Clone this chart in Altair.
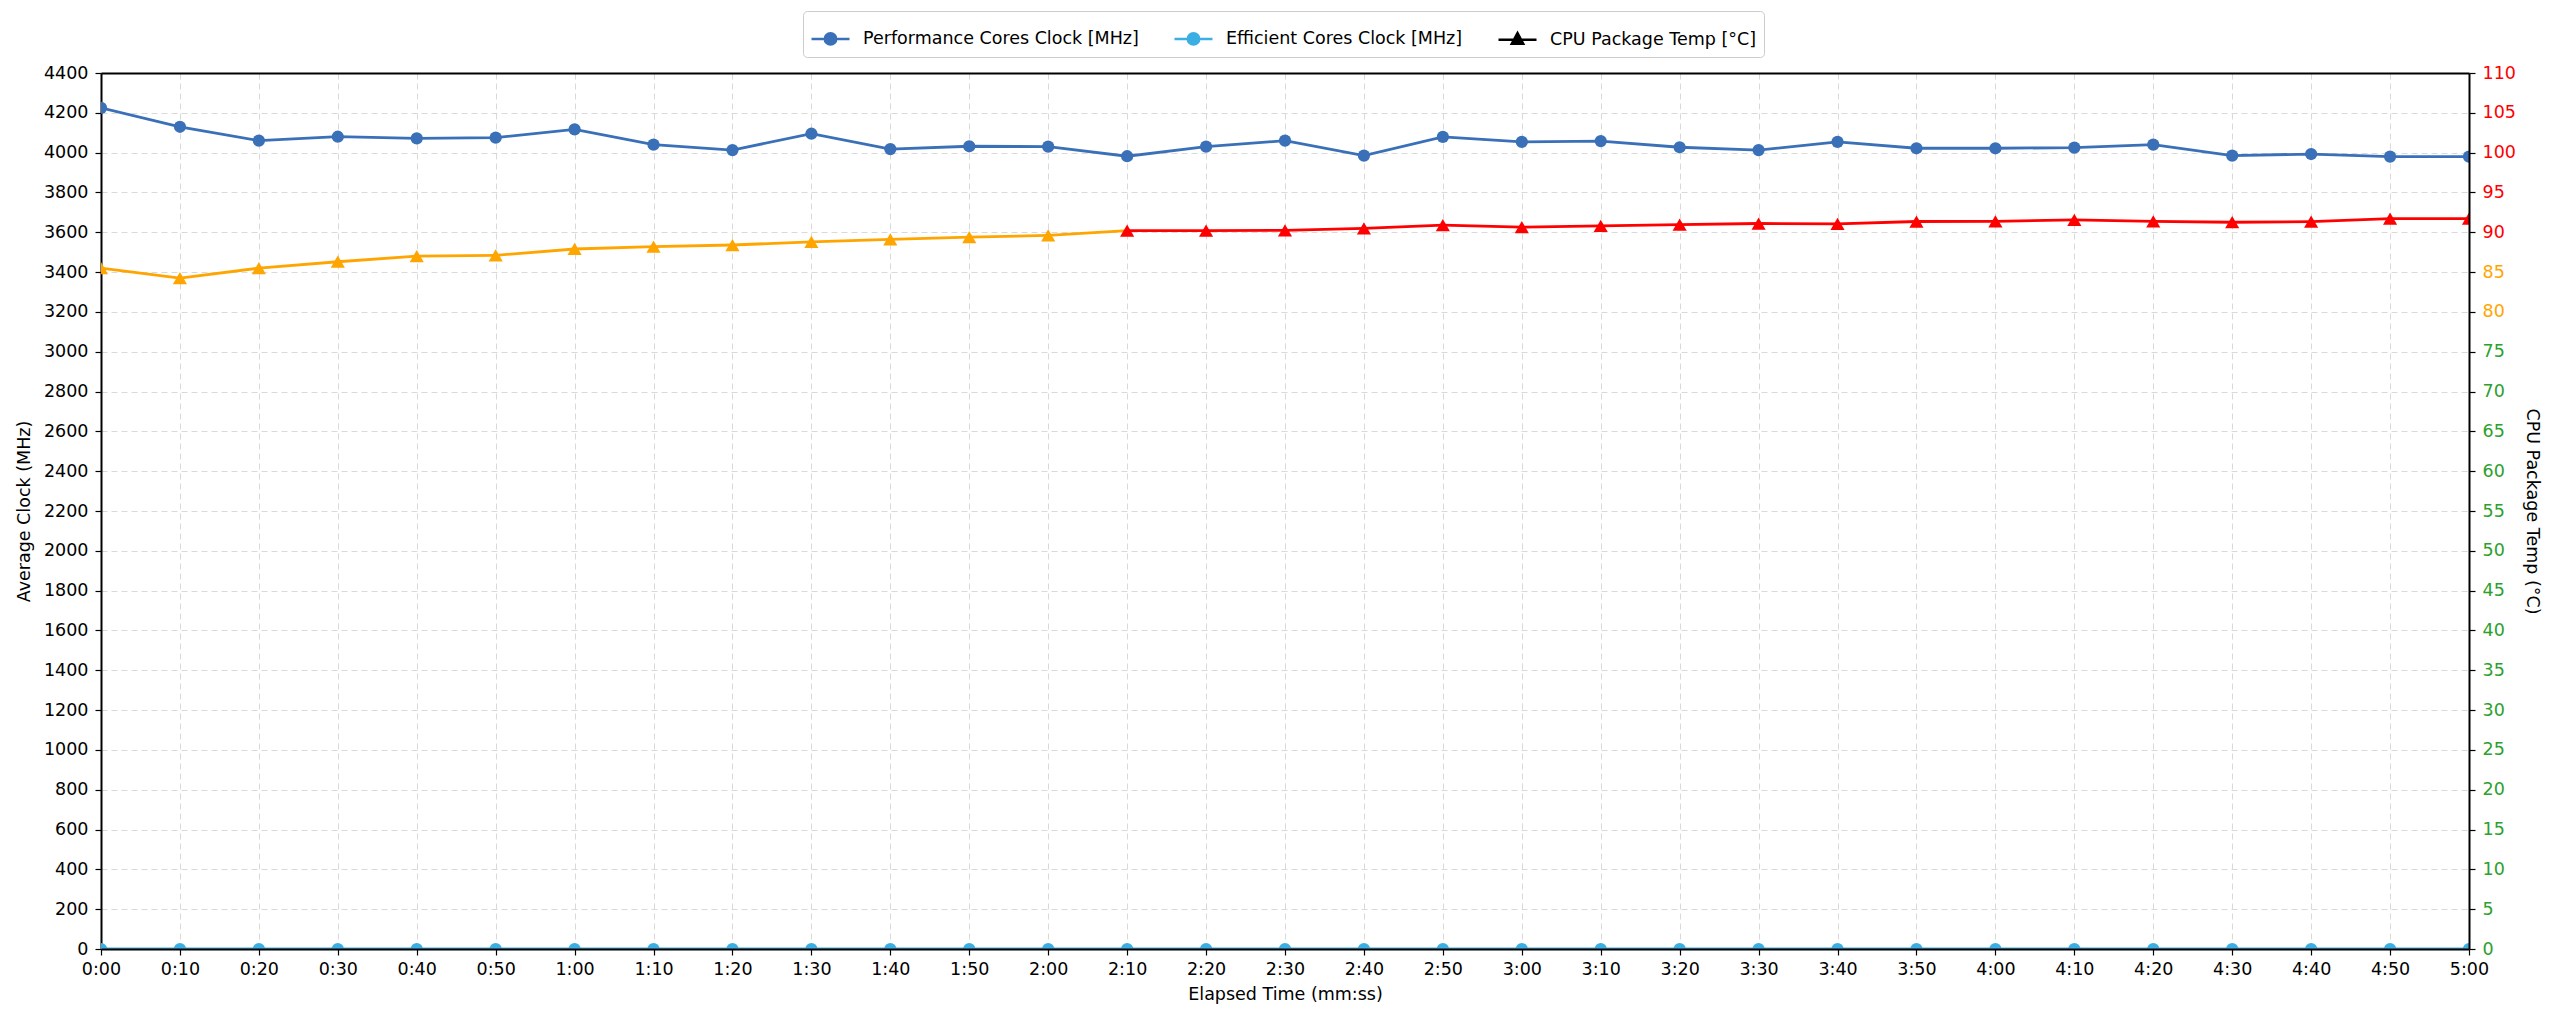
import altair as alt
import pandas as pd

# elapsed seconds, one sample every 10 s
elapsed_s = [0, 10, 20, 30, 40, 50, 60, 70, 80, 90, 100, 110, 120, 130, 140, 150,
             160, 170, 180, 190, 200, 210, 220, 230, 240, 250, 260, 270, 280, 290, 300]

perf_clock = [4225, 4130, 4060, 4080, 4072, 4075, 4117, 4040, 4013, 4095, 4018,
              4032, 4030, 3982, 4030, 4060, 3985, 4079, 4054, 4058, 4027,
              4013, 4054, 4022, 4022, 4025, 4040, 3985, 3993, 3980, 3980]

eff_clock = [0] * 31

pkg_temp = [85.5, 84.25, 85.5, 86.3, 87.0, 87.1, 87.9, 88.2, 88.4, 88.8, 89.1,
            89.4, 89.6, 90.2, 90.2, 90.25, 90.5, 90.9, 90.65, 90.8, 90.95,
            91.1, 91.05, 91.35, 91.38, 91.55, 91.38, 91.26, 91.34, 91.72, 91.72]

legend_labels = ["Performance Cores Clock [MHz]", "Efficient Cores Clock [MHz]", "CPU Package Temp [°C]"]
legend_colors = ["#3a70b8", "#3baee4", "black"]
legend_paths = [
    "M-1,0L1,0M-0.3,0A0.3,0.3,0,1,0,0.3,0A0.3,0.3,0,1,0,-0.3,0Z",
    "M-1,0L1,0M-0.3,0A0.3,0.3,0,1,0,0.3,0A0.3,0.3,0,1,0,-0.3,0Z",
    "M-1,0L1,0M0,-0.34L0.3,0.22L-0.3,0.22Z",
]

FS = 17.5
LW = 2.8
GRID = dict(gridDash=[6, 4], gridColor="#d9d9d9", gridWidth=1)


def temp_color(t):
    return "red" if t >= 90 else "orange"


clock_df = pd.DataFrame({"t": elapsed_s, "perf": perf_clock, "eff": eff_clock})
temp_df = pd.DataFrame({"t": elapsed_s, "temp": pkg_temp,
                        "c": [temp_color(v) for v in pkg_temp]})
seg_df = pd.DataFrame({
    "t": elapsed_s[:-1], "t2": elapsed_s[1:],
    "temp": pkg_temp[:-1], "temp2": pkg_temp[1:],
    "c": [temp_color(v) for v in pkg_temp[:-1]],
})
legend_df = pd.DataFrame({"series": legend_labels})

x_label = "floor(datum.value / 60) + ':' + (datum.value % 60 < 10 ? '0' : '') + (datum.value % 60)"
x_scale = alt.Scale(domain=[0, 300], nice=False)
y_clock = alt.Scale(domain=[0, 4400], nice=False)
y_temp = alt.Scale(domain=[0, 110], nice=False)

# vertical grid only, under the marks
x_grid_axis = alt.Axis(orient="bottom", values=elapsed_s, labels=False, ticks=False,
                       domain=False, title=None, zindex=0, **GRID)
# bottom spine, ticks and labels, over the marks
x_main_axis = alt.Axis(orient="bottom", values=elapsed_s, labelExpr=x_label,
                       title="Elapsed Time (mm:ss)", grid=False, zindex=1,
                       labelFlush=False, labelOverlap=False, labelPadding=5, titlePadding=8)
# top spine
x_top_axis = alt.Axis(orient="top", labels=False, ticks=False, grid=False, title=None,
                      domain=True, zindex=1)

y_clock_axis = alt.Axis(orient="left", values=list(range(0, 4401, 200)), format="d",
                        title="Average Clock (MHz)", labelOverlap=False, labelPadding=7,
                        titlePadding=10, zindex=0, **GRID)
temp_axis = alt.Axis(
    orient="right", values=list(range(0, 111, 5)), title="CPU Package Temp (°C)",
    grid=False, labelOverlap=False, labelPadding=7, titlePadding=7, zindex=1,
    labelColor={"condition": [{"test": "datum.value >= 90", "value": "red"},
                              {"test": "datum.value >= 80", "value": "orange"}],
                "value": "#2ca02c"},
)

perf = alt.Chart(clock_df).mark_line(
    color="#3a70b8", strokeWidth=LW, clip=True,
    point=alt.OverlayMarkDef(filled=True, size=150, color="#3a70b8", opacity=1),
).encode(x=alt.X("t:Q", scale=x_scale, axis=x_grid_axis),
         y=alt.Y("perf:Q", scale=y_clock, axis=y_clock_axis))

eff = alt.Chart(clock_df).mark_line(
    color="#3baee4", strokeWidth=LW, clip=True,
    point=alt.OverlayMarkDef(filled=True, size=150, color="#3baee4", opacity=1),
).encode(x=alt.X("t:Q", scale=x_scale, axis=x_main_axis),
         y=alt.Y("eff:Q", scale=y_clock, axis=None))

temp_lines = alt.Chart(seg_df).mark_rule(strokeWidth=LW, clip=True).encode(
    x=alt.X("t:Q", scale=x_scale, axis=x_top_axis), x2="t2:Q",
    y=alt.Y("temp:Q", scale=y_temp, axis=temp_axis), y2="temp2:Q",
    color=alt.Color("c:N", scale=None),
)
temp_pts = alt.Chart(temp_df).mark_point(
    shape="triangle-up", filled=True, size=200, opacity=1, clip=True
).encode(x=alt.X("t:Q", scale=x_scale, axis=None),
         y=alt.Y("temp:Q", scale=y_temp, axis=None),
         color=alt.Color("c:N", scale=None))

legend_layer = alt.Chart(legend_df).mark_point(strokeWidth=2.5, opacity=1).encode(
    fill=alt.Fill("series:N", scale=alt.Scale(domain=legend_labels, range=legend_colors),
                  legend=alt.Legend(title=None, orient="none", legendX=702, legendY=-62,
                                    direction="horizontal", columns=3,
                                    labelFontSize=FS, labelLimit=0, symbolSize=1444,
                                    symbolStrokeWidth=2.5, labelOffset=12,
                                    columnPadding=30, padding=7,
                                    strokeColor="#cccccc", fillColor="white",
                                    cornerRadius=4)),
    stroke=alt.Stroke("series:N", scale=alt.Scale(domain=legend_labels, range=legend_colors)),
    shape=alt.Shape("series:N", scale=alt.Scale(domain=legend_labels, range=legend_paths)),
).transform_filter("false")

chart = alt.layer(perf, eff, temp_lines, temp_pts, legend_layer).resolve_scale(
    y="independent", color="independent"
).resolve_axis(
    x="independent", y="independent"
).properties(
    width=2368, height=876,
    autosize=alt.AutoSizeParams(type="none"),
    padding={"left": 93, "top": 65, "right": 75, "bottom": 60},
).configure(
    font="DejaVu Sans",
).configure_view(
    stroke=None,
).configure_axis(
    labelFontSize=FS, titleFontSize=FS, titleFontWeight="normal",
    labelColor="black", titleColor="black",
    domainColor="black", domainWidth=2, tickColor="black", tickSize=6,
    tickWidth=1.2, labelFont="DejaVu Sans", titleFont="DejaVu Sans",
).configure_legend(
    labelFont="DejaVu Sans", labelColor="black",
)

chart.save("out.html", embed_options={"renderer": "svg", "actions": False})
